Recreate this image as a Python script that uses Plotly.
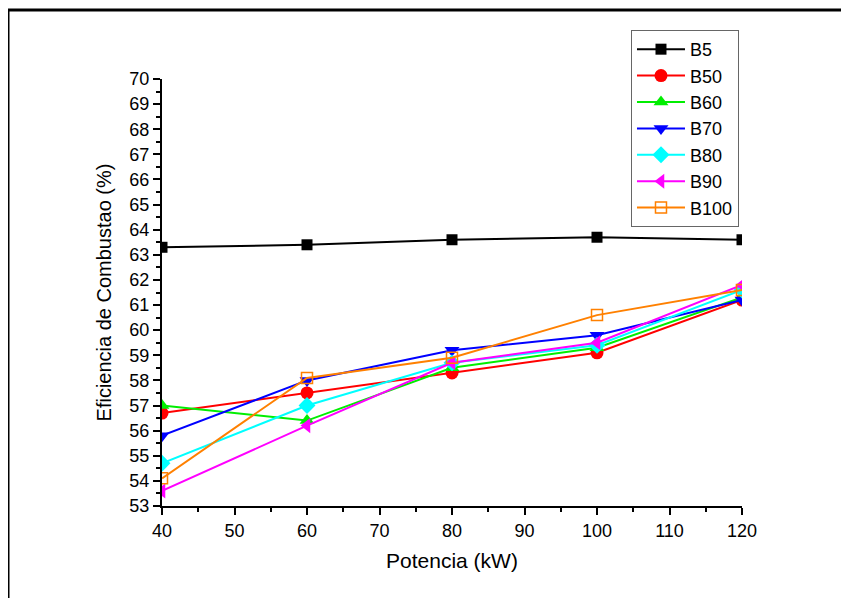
import plotly.graph_objects as go

potencia = [40, 60, 80, 100, 120]
series_names = ["B5", "B50", "B60", "B70", "B80", "B90", "B100"]
b5 = [63.3, 63.4, 63.6, 63.7, 63.6]
b50 = [56.7, 57.5, 58.3, 59.1, 61.2]
b60 = [57.0, 56.4, 58.5, 59.3, 61.3]
b70 = [55.8, 58.0, 59.2, 59.8, 61.2]
b80 = [54.7, 57.0, 58.7, 59.4, 61.6]
b90 = [53.6, 56.2, 58.7, 59.5, 61.8]
b100 = [54.1, 58.1, 58.9, 60.6, 61.6]

values = [b5, b50, b60, b70, b80, b90, b100]
colors = ["#000000", "#ff0000", "#00ee00", "#0000ff", "#00ffff", "#ff00ff", "#ff8000"]
symbols = ["square", "circle", "triangle-up", "triangle-down", "diamond", "triangle-left", "square-open"]
sizes = [11, 13, 13, 13, 13, 13, 11]

FONT = "Liberation Sans, Arial, sans-serif"

fig = go.Figure()
for name, ys, c, s, sz in zip(series_names, values, colors, symbols, sizes):
    fig.add_trace(go.Scatter(
        x=potencia, y=ys, name=name, mode="lines+markers",
        line=dict(color=c, width=2),
        marker=dict(symbol=s, size=sz, color=c,
                    line=dict(width=1.5 if s == "square-open" else 0, color=c)),
        cliponaxis=True,
    ))

axis_font = dict(family=FONT, size=18, color="black")
fig.update_layout(
    width=849, height=598,
    margin=dict(l=154, r=115, t=71, b=100),
    paper_bgcolor="white", plot_bgcolor="white",
    font=dict(family=FONT, color="black"),
    showlegend=True,
    legend=dict(x=0.8086, y=1.1148, xanchor="left", yanchor="top",
                bordercolor="#666666", borderwidth=1, bgcolor="white",
                font=dict(size=18, family=FONT),
                itemwidth=48, tracegroupgap=0),
    xaxis=dict(range=[40, 120], tickmode="linear", tick0=40, dtick=10,
               ticks="outside", ticklen=7, tickwidth=2, tickcolor="black",
               showline=True, linecolor="black", linewidth=2,
               showgrid=False, zeroline=False, tickfont=axis_font,
               minor=dict(dtick=5, ticks="outside", ticklen=4, tickwidth=2, tickcolor="black", showgrid=False),
               title=dict(text="Potencia (kW)", font=dict(size=21, family=FONT), standoff=14)),
    yaxis=dict(range=[53, 70], tickmode="linear", tick0=53, dtick=1,
               ticks="outside", ticklen=7, tickwidth=2, tickcolor="black",
               showline=True, linecolor="black", linewidth=2,
               showgrid=False, zeroline=False, tickfont=axis_font,
               minor=dict(dtick=0.5, ticks="outside", ticklen=4, tickwidth=2, tickcolor="black", showgrid=False),
               title=dict(text="Eficiencia de Combustao (%)", font=dict(size=20, family=FONT), standoff=12)),
    shapes=[
        dict(type="line", xref="paper", yref="paper", x0=-0.2655, x1=1.25, y0=1.1616, y1=1.1616,
             line=dict(color="black", width=3)),
        dict(type="line", xref="paper", yref="paper", x0=-0.2655, x1=-0.2655, y0=-0.25, y1=1.1616,
             line=dict(color="black", width=3)),
    ],
)

fig.write_html("out.html")
